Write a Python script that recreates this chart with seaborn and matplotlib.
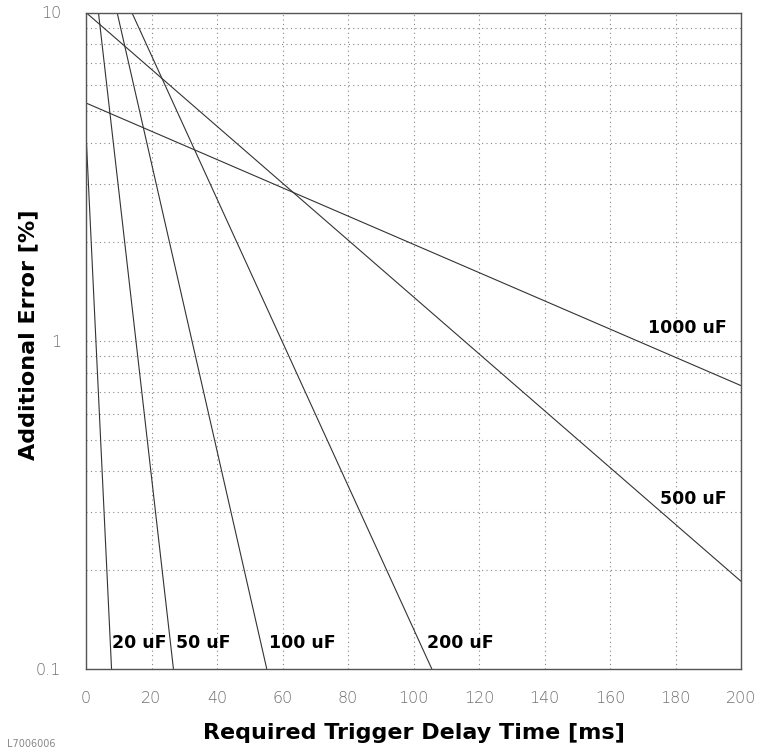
import matplotlib
matplotlib.use("Agg")
import matplotlib.pyplot as plt
import matplotlib.ticker as mticker
import seaborn as sns
import pandas as pd

# ---- data (start/end points of each straight line on log-y) ----
capacitors = ["20 uF", "50 uF", "100 uF", "200 uF", "500 uF", "1000 uF"]
t_start = [0.0, 3.8, 9.5, 14.0, 0.0, 0.0]
err_start = [4.3, 10.0, 10.0, 10.0, 10.0, 5.3]
t_end = [7.8, 26.7, 55.2, 105.6, 200.0, 200.0]
err_end = [0.1, 0.1, 0.1, 0.1, 0.185, 0.73]

# label positions (data coords) and alignment
label_x = [7.8, 27.4, 55.9, 104.0, 195.7, 195.7]
label_y = [0.12, 0.12, 0.12, 0.12, 0.33, 1.09]
label_ha = ["left", "left", "left", "left", "right", "right"]

x_ticks = [0, 20, 40, 60, 80, 100, 120, 140, 160, 180, 200]
y_ticks = [0.1, 1, 10]
y_ticklabels = ["0.1", "1", "10"]

rows = []
for c, t0, e0, t1, e1 in zip(capacitors, t_start, err_start, t_end, err_end):
    rows.append({"cap": c, "t": t0, "err": e0})
    rows.append({"cap": c, "t": t1, "err": e1})
df = pd.DataFrame(rows)

sns.set_theme(style="white")
plt.rcParams["font.family"] = ["DejaVu Sans"]

fig = plt.figure(figsize=(7.62, 7.5), dpi=100)
ax = fig.add_axes([86 / 762, 1 - 669 / 750, (741 - 86) / 762, (669 - 12.5) / 750])

sns.lineplot(data=df, x="t", y="err", units="cap", estimator=None,
             color="#333333", linewidth=0.8, ax=ax, legend=False, sort=False)

ax.set_yscale("log")
ax.set_xlim(0, 200)
ax.set_ylim(0.1, 10)

ax.set_xticks(x_ticks)
ax.set_xticklabels([str(v) for v in x_ticks])
ax.set_yticks(y_ticks)
ax.set_yticklabels(y_ticklabels)
ax.yaxis.set_minor_locator(mticker.LogLocator(base=10, subs=range(2, 10)))
ax.yaxis.set_minor_formatter(mticker.NullFormatter())

for lab in ax.get_xticklabels() + ax.get_yticklabels():
    lab.set_fontfamily("DejaVu Sans")
    lab.set_fontsize(11.5)
    lab.set_color("#707070")
    lab.set_fontweight("light")

ax.tick_params(axis="x", which="major", length=0, pad=16)
ax.tick_params(axis="y", which="major", length=0, pad=18)
ax.tick_params(axis="y", which="minor", length=3, direction="out", color="#777777", width=0.8)

grid_kw = dict(color="#888888", linestyle=(0, (1, 3)), linewidth=0.8)
ax.grid(False)
ax.xaxis.grid(True, which="major", **grid_kw)
ax.yaxis.grid(True, which="both", **grid_kw)

for s in ax.spines.values():
    s.set_color("#555555")
    s.set_linewidth(1.0)
    s.set_visible(True)

for c, lx, ly, ha in zip(capacitors, label_x, label_y, label_ha):
    ax.text(lx, ly, c, ha=ha, va="center", fontsize=12.5, fontweight="bold",
            color="black", family="DejaVu Sans")

ax.set_xlabel("Required Trigger Delay Time [ms]", fontsize=16, fontweight="bold",
              color="black")
ax.set_ylabel("Additional Error [%]", fontsize=16, fontweight="bold",
              color="black")
ax.xaxis.set_label_coords(0.5, -(733 - 669) / (669 - 12.5), transform=ax.transAxes)
ax.xaxis.label.set_va("center")
ax.yaxis.set_label_coords(-(86 - 28) / (741 - 86), (669 - 335) / (669 - 12.5),
                          transform=ax.transAxes)
ax.yaxis.label.set_va("center")

fig.text(7 / 762, 1 / 750, "L7006006", fontsize=7, color="#888888",
         ha="left", va="bottom")

fig.savefig("out.png", dpi=100)
